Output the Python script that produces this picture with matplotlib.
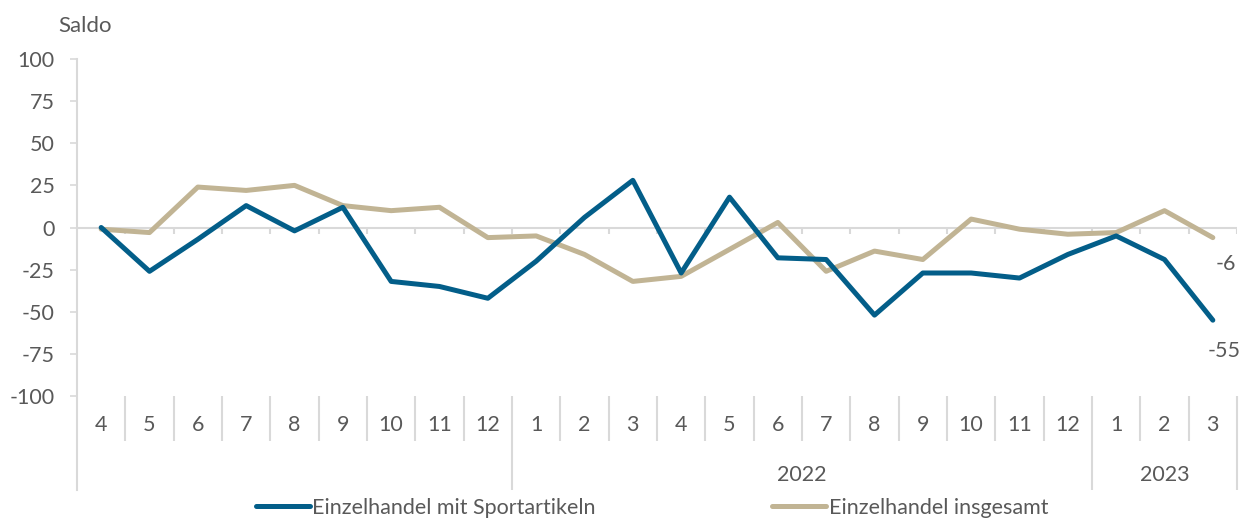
import matplotlib

matplotlib.use("Agg")
import matplotlib.pyplot as plt

plt.rcParams["font.family"] = ["Lato", "DejaVu Sans"]
plt.rcParams["axes.unicode_minus"] = False

# months: 4/2021 .. 3/2023
MONTHS = ["4", "5", "6", "7", "8", "9", "10", "11", "12",
          "1", "2", "3", "4", "5", "6", "7", "8", "9", "10", "11", "12",
          "1", "2", "3"]
YEARS = ["", "2022", "2023"]
YEAR_SIZES = [9, 12, 3]

SPORT = [0, -26, -7, 13, -2, 12, -32, -35, -42,
         -20, 6, 28, -27, 18, -18, -19, -52, -27, -27, -30, -16,
         -5, -19, -55]
TOTAL = [-1, -3, 24, 22, 25, 13, 10, 12, -6,
         -5, -16, -32, -29, -13, 3, -26, -14, -19, 5, -1, -4,
         -3, 10, -6]

BLUE = "#035E89"
TAN = "#C1B494"
GRID = "#D9D9D9"
TXT = "#595959"
FS = 15.5

fig = plt.figure(figsize=(12.41, 5.2), dpi=100)
ax = fig.add_axes([77 / 1241, 1 - 396 / 520, 1160 / 1241, 337 / 520])

x = list(range(len(MONTHS)))
ax.plot(x, SPORT, color=BLUE, lw=3.6, solid_capstyle="round", label="Einzelhandel mit Sportartikeln", zorder=3)
ax.plot(x, TOTAL, color=TAN, lw=3.6, solid_capstyle="round", label="Einzelhandel insgesamt", zorder=2)

ax.set_xlim(-0.5, len(MONTHS) - 0.5)
ax.set_ylim(-100, 100)
ax.set_yticks(range(-100, 101, 25))
ax.tick_params(axis="y", colors=GRID, labelcolor=TXT, labelsize=FS, length=5, width=1.2, pad=11)
ax.set_xticks([])
for s in ["top", "right", "bottom"]:
    ax.spines[s].set_visible(False)
ax.spines["left"].set_color(GRID)
ax.spines["left"].set_linewidth(1.5)
ax.spines["left"].set_bounds(-156, 100)
ax.spines["left"].set_clip_on(False)

# zero line with tick marks between categories
ax.axhline(0, color=GRID, lw=1.5, zorder=1)
bounds = [i + 0.5 for i in range(len(MONTHS))]
ax.vlines(bounds, -4, 0, color=GRID, lw=1.5, zorder=1)

# category axis below the plot
year_edges = []
acc = 0
for n in YEAR_SIZES:
    acc += n
    year_edges.append(acc - 0.5)
for b in bounds:
    low = -156 if b in year_edges else -127
    ax.vlines(b, -100, low, color=GRID, lw=1.5, clip_on=False)
for i, m in enumerate(MONTHS):
    ax.text(i, -117, m, ha="center", va="center", fontsize=FS, color=TXT, clip_on=False)
start = -0.5
for yr, n in zip(YEARS, YEAR_SIZES):
    if yr:
        ax.text(start + n / 2, -147, yr, ha="center", va="center", fontsize=FS, color=TXT, clip_on=False)
    start += n

# end labels
ax.annotate(str(TOTAL[-1]), (x[-1], TOTAL[-1]), xytext=(13, -26), textcoords="offset pixels",
            ha="center", va="center", fontsize=FS, color=TXT)
ax.annotate(str(SPORT[-1]), (x[-1], SPORT[-1]), xytext=(11, -31), textcoords="offset pixels",
            ha="center", va="center", fontsize=FS, color=TXT)

fig.text(58 / 1241, 1 - 26 / 520, "Saldo", ha="left", va="center", fontsize=FS + 0.5, color=TXT)

fig.legend(loc="center", bbox_to_anchor=(652 / 1241, 1 - 508 / 520), ncol=2, frameon=False,
           fontsize=FS, labelcolor=TXT, handlelength=2.5, handletextpad=0.12, columnspacing=8.2,
           borderpad=0)

fig.savefig("out.png", dpi=100)
